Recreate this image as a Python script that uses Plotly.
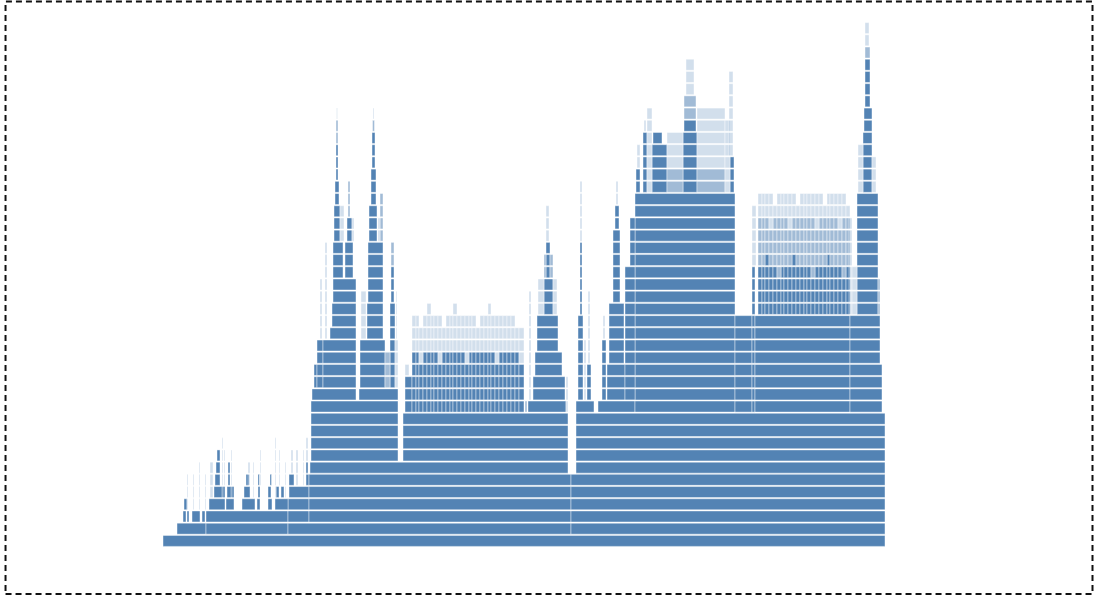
import plotly.graph_objects as go

# Flame graph.
# Each stack = (start, end, lowest depth, highest depth); x in samples from the root start.
root_frames = [
    (0, 722, 0, 0),
    (14, 43, 1, 1), (43, 125, 1, 1), (125, 408, 1, 1), (408, 722, 1, 1),
]

left_frames = [
    (20, 23, 2, 2), (24, 26, 2, 2), (29, 37, 2, 2), (39, 42, 2, 2), (43, 125, 2, 2), (125, 146, 2, 3),
    (21, 24, 3, 3), (46, 62, 3, 3), (63, 71, 3, 3), (79, 92, 3, 3), (94, 97, 3, 3), (105, 109, 3, 3),
    (112, 125, 3, 3),
    (51, 62, 4, 4), (64, 71, 4, 4), (81, 87, 4, 4), (95, 97, 4, 4), (105, 108, 4, 4), (113, 116, 4, 4),
    (118, 121, 4, 4), (126, 146, 4, 4),
    (52, 57, 5, 5), (65, 67, 5, 5), (83, 86, 5, 5), (95, 96.5, 5, 5), (107, 108.5, 5, 5), (126, 131, 5, 5),
    (143, 146, 5, 5),
    (53, 57, 6, 6), (65, 67, 6, 6), (143, 145, 6, 6),
    (54, 57, 7, 7),
]
left_thin = [
    (24, 25, 3, 5), (30, 31, 3, 5), (36, 37, 3, 6), (42, 43, 3, 5), (47, 50, 4, 6), (59, 60, 4, 8),
    (61, 62, 5, 7), (68, 69, 4, 7), (85, 87, 5, 6), (90, 91, 4, 6), (97, 98, 5, 7), (112, 113, 4, 8),
    (116, 117, 5, 7), (122, 123, 4, 6), (128, 130, 6, 7), (133, 135, 5, 7), (140, 141, 5, 7),
    (143, 145, 7, 8),
]

body_frames = [
    (146, 408, 2, 5), (408, 722, 2, 5),
    (147, 405, 6, 6), (413, 722, 6, 10),
    (148, 235, 7, 11), (240, 405, 7, 10),
]

spike_frames = [
    # spike 1
    (149, 193, 12, 12), (151, 154, 13, 14), (154, 160, 13, 16), (160, 193, 13, 16),
    (167, 193, 17, 17), (169, 193, 18, 19), (170, 193, 20, 21), (170, 180, 22, 24), (182, 190, 22, 24),
    (171, 177, 25, 27), (184, 189, 25, 26), (172, 176, 28, 29), (173, 175, 30, 32),
    # spike 2
    (196, 235, 12, 12), (197, 222, 13, 16), (227, 232, 13, 19), (228, 231, 20, 22),
    (204, 220, 17, 19), (205, 220, 20, 24), (206, 214, 25, 27), (208, 213, 28, 30), (209, 212, 31, 33),
    # spike 3
    (242, 249, 11, 13), (365, 403, 11, 11), (370, 402, 12, 13), (372, 399, 14, 15), (374, 395, 16, 18),
    (381, 390, 19, 21), (383, 387, 22, 24),
]
spike_medium = [
    (185, 187, 27, 29), (173, 175, 33, 34), (222, 227, 13, 15), (228, 231, 23, 24), (217, 220, 25, 28),
    (209.5, 211.5, 34, 34), (362, 364, 11, 11), (381, 383, 22, 23), (387, 390, 22, 23),
]
spike_thin = [
    (173.5, 174.5, 35, 35), (157, 159, 17, 21), (162, 164, 17, 24), (177, 181, 25, 27), (189, 191, 25, 26),
    (232, 235, 13, 16), (210, 211, 35, 35), (198, 203, 17, 20), (215, 217, 25, 26), (233, 234, 17, 20),
    (242, 246, 14, 14), (375, 381, 19, 21), (390, 394, 19, 21), (383, 386, 25, 27), (366, 368, 12, 20),
    (403, 405, 11, 13),
]

right_frames = [
    (413, 431, 11, 11), (435, 472, 11, 11), (472, 572, 11, 28), (572, 589, 11, 18), (589, 592, 11, 22),
    (592, 687, 11, 18), (687, 719, 11, 14), (687, 717, 15, 18),
    (415, 420, 12, 18), (417, 419, 19, 24), (424, 428, 12, 14), (439, 443, 12, 16),
    (444, 462, 12, 14), (446, 461, 15, 19), (450, 457, 20, 25), (452, 456, 26, 27),
    (462, 472, 12, 22), (467, 472, 23, 26),
    (473, 477, 29, 30), (480, 484, 29, 33), (489, 504, 29, 32), (490, 499, 33, 33),
    (520, 534, 29, 33), (521, 533, 34, 34), (567, 571, 29, 31),
    (694, 715, 19, 28), (700, 709, 29, 33), (701, 709, 34, 35), (702, 707, 36, 39),
]
right_medium = [
    (504, 520, 29, 30), (521, 533, 35, 36), (534, 562, 29, 30), (715, 717, 19, 21), (702, 707, 40, 40),
]
right_thin = [
    (417, 419, 25, 29), (425, 427, 15, 20), (440, 442, 17, 18), (453, 455, 28, 29), (421, 423, 12, 16),
    (474, 477, 31, 32), (481, 483, 34, 34), (484, 489, 29, 35), (504, 520, 31, 33), (523, 531, 37, 39),
    (534, 562, 31, 35), (562, 567, 29, 34), (566, 570, 32, 38), (589, 593, 23, 27),
    (686, 689, 19, 26), (689, 694, 19, 22), (695, 700, 29, 32), (709, 713, 29, 31), (702, 706, 41, 42),
]

# comb of many small stacks (columns between consecutive edges)
comb1_edges = [249, 253, 256, 260, 264, 268, 271, 275, 279, 283, 287, 290, 294, 298, 302, 306,
               309, 313, 317, 321, 325, 328, 332, 336, 340, 344, 348, 352, 356, 361]
comb1_base = 11
comb1_dark_top = [15, 15, 14, 15, 15, 15, 15, 14, 15, 15, 15, 15, 15, 15, 14,
                  15, 15, 15, 15, 15, 15, 15, 14, 15, 15, 15, 15, 15, 14]
comb1_faint_top = [18, 18, 17, 18, 19, 18, 18, 18, 17, 18, 18, 19, 18, 18, 18,
                   18, 18, 17, 18, 18, 19, 18, 18, 18, 18, 18, 18, 17, 17]

comb2_edges = [595, 599, 602, 606, 610, 614, 618, 621, 625, 629, 633, 637, 641, 644, 648,
               652, 656, 660, 664, 667, 671, 675, 679, 683, 687]
comb2_base = 19
comb2_dark_top = [22, 22, 23, 22, 22, 21, 22, 22, 22, 23, 22, 22, 22, 22, 21, 22,
                  22, 22, 23, 22, 22, 22, 21, 22]
comb2_medium_top = [26, 26, 26, 25, 26, 26, 26, 26, 25, 26, 26, 26, 26, 26, 26, 25,
                    26, 26, 26, 26, 26, 25, 26, 26]
comb2_faint_top = [28, 28, 28, 28, 27, 28, 28, 28, 28, 28, 27, 28, 28, 28, 28, 28,
                   28, 27, 28, 28, 28, 28, 28, 27]

TOTAL = 722
MAX_DEPTH = 42


def comb_stacks(edges, lo, tops):
    out = []
    for i, top in enumerate(tops):
        if top >= lo:
            out.append((edges[i], edges[i + 1], lo, top))
    return out


solid = root_frames + left_frames + body_frames + spike_frames + right_frames
solid += comb_stacks(comb1_edges, comb1_base, comb1_dark_top)
solid += comb_stacks(comb2_edges, comb2_base, comb2_dark_top)

medium = spike_medium + right_medium
faint = left_thin + spike_thin + right_thin
for i in range(len(comb1_dark_top)):
    faint.append((comb1_edges[i], comb1_edges[i + 1], comb1_dark_top[i] + 1, comb1_faint_top[i]))
for i in range(len(comb2_dark_top)):
    medium.append((comb2_edges[i], comb2_edges[i + 1], comb2_dark_top[i] + 1, comb2_medium_top[i]))
    faint.append((comb2_edges[i], comb2_edges[i + 1], comb2_medium_top[i] + 1, comb2_faint_top[i]))


def expand(stacks):
    base, width, depth = [], [], []
    for a, b, lo, hi in stacks:
        for d in range(lo, hi + 1):
            base.append(a)
            width.append(b - a)
            depth.append(d)
    return base, width, depth


fig = go.Figure()
for stacks, color in [(solid, "rgba(83,131,180,1)"),
                      (medium, "rgba(83,131,180,0.55)"),
                      (faint, "rgba(83,131,180,0.26)")]:
    b, w, d = expand(stacks)
    fig.add_trace(go.Bar(
        orientation="h", base=b, x=w, y=d, width=0.9,
        marker=dict(color=color, line=dict(color="rgba(255,255,255,0.85)", width=0.5)),
        hoverinfo="skip", showlegend=False,
    ))

fig.update_layout(
    width=1095, height=598,
    margin=dict(l=163, r=210, t=22, b=51),
    paper_bgcolor="white", plot_bgcolor="white",
    barmode="overlay", bargap=0.1,
    xaxis=dict(range=[0, TOTAL], visible=False, fixedrange=True),
    yaxis=dict(range=[-0.5, MAX_DEPTH + 0.5], visible=False, fixedrange=True),
    shapes=[dict(type="rect", xref="paper", yref="paper",
                 x0=-0.2181, x1=1.2874, y0=-0.0895, y1=1.039,
                 line=dict(color="#111", width=2, dash="6px,4px"))],
)

fig.write_html("out.html", config={"displayModeBar": False},
               post_script="document.body.style.margin='0px';")
